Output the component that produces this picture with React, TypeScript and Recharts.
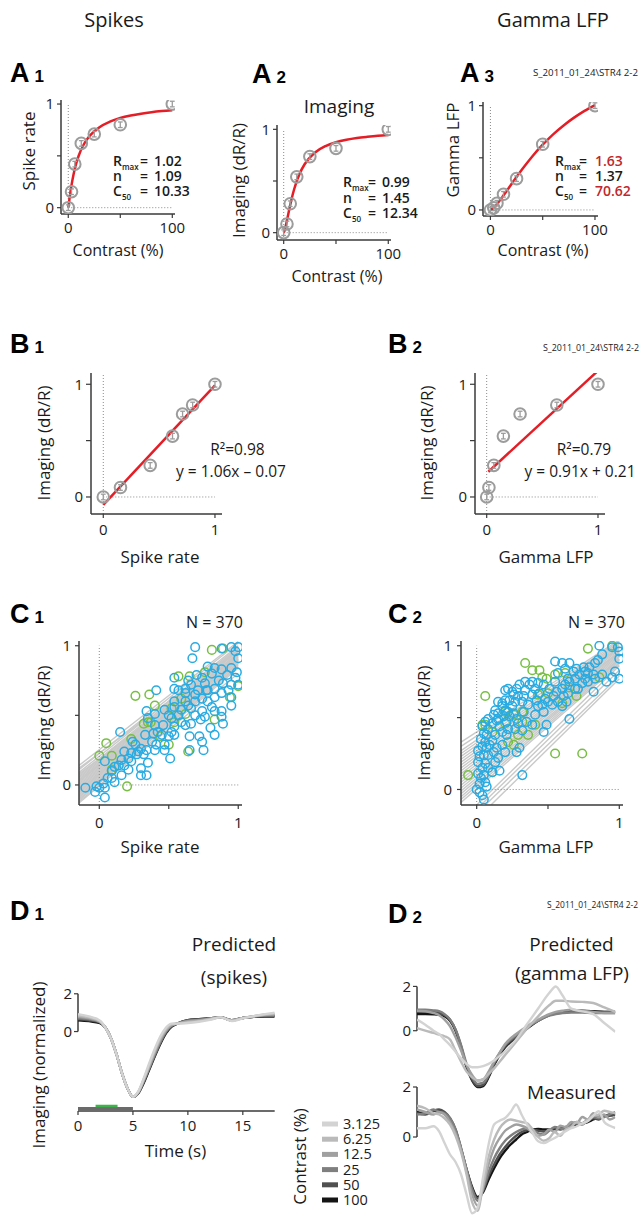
import React from 'react';
import { ComposedChart, Line, Scatter, XAxis, YAxis, ReferenceLine } from 'recharts';

const FONT = '"Open Sans", "Noto Sans", "DejaVu Sans", sans-serif';
const LETTER_FONT = '"Liberation Sans", Arial, sans-serif';
const INK = '#1a1a1a';
const AXIS = '#3a3a3a';
const RED = '#e41e26';
const MARK = '#9c9c9c';
const BLUE = '#29abe2';
const GREEN = '#77bf43';
const FITGRAY = '#c9c9c9';

// ---------- A: contrast response ----------
const contrasts = [0, 3.125, 6.25, 12.5, 25, 50, 100];
const spikeRate = [0, 0.154, 0.42, 0.62, 0.71, 0.8, 1.0];
const imagingResp = [0, 0.084, 0.28, 0.54, 0.736, 0.816, 1.0];
const gammaLfp = [0, 0.02, 0.064, 0.15, 0.3, 0.63, 1.0];

const fitContrast = [0, 1, 2, 3, 5, 7.5, 10, 15, 20, 30, 40, 50, 60, 70, 80, 90, 100];
const fitSpike = [0, 0.074, 0.146, 0.21, 0.318, 0.422, 0.501, 0.612, 0.686, 0.777, 0.83, 0.865, 0.889, 0.907, 0.921, 0.932, 0.941];
const fitImaging = [0, 0.025, 0.066, 0.113, 0.21, 0.324, 0.42, 0.565, 0.662, 0.776, 0.838, 0.875, 0.899, 0.916, 0.928, 0.938, 0.945];
const fitGamma = [0, 0.005, 0.012, 0.021, 0.042, 0.072, 0.105, 0.174, 0.246, 0.385, 0.513, 0.626, 0.725, 0.81, 0.885, 0.95, 1.006];

// ---------- B: linear fits (end points) ----------
const b1FitX = [0.0, 1.0];
const b1FitY = [-0.07, 0.99];
const b2FitX = [0.015, 1.0];
const b2FitY = [0.224, 1.12];

// ---------- C: population ----------
const c1Blue = [
  [0.69, 0.99], [0.67, 0.91], [0.88, 0.98], [0.95, 0.99], [1.0, 0.99], [0.98, 0.96], [1.0, 0.91], [0.95, 0.84], [0.88, 0.83], [0.92, 0.79],
  [0.83, 0.84], [0.78, 0.85], [0.81, 0.8], [0.74, 0.77], [0.76, 0.73], [0.86, 0.75], [0.89, 0.73], [0.98, 0.77], [0.95, 0.72], [1.0, 0.72],
  [0.83, 0.69], [0.78, 0.68], [0.71, 0.68], [0.66, 0.72], [0.64, 0.75], [0.69, 0.65], [0.74, 0.62], [0.83, 0.63], [0.88, 0.66], [0.95, 0.63],
  [0.69, 0.6], [0.64, 0.57], [0.57, 0.68], [0.54, 0.69], [0.62, 0.66], [0.54, 0.6], [0.62, 0.6], [0.81, 0.56], [0.83, 0.53], [0.95, 0.57],
  [0.88, 0.53], [0.76, 0.49], [0.73, 0.47], [0.66, 0.44], [0.62, 0.43], [0.54, 0.42], [0.52, 0.48], [0.5, 0.5], [0.47, 0.54], [0.41, 0.68],
  [0.4, 0.51], [0.34, 0.53], [0.35, 0.48], [0.46, 0.43], [0.52, 0.38], [0.5, 0.35], [0.54, 0.36], [0.65, 0.35], [0.72, 0.35], [0.74, 0.31],
  [0.65, 0.25], [0.75, 0.25], [0.8, 0.41], [0.83, 0.36], [0.89, 0.44], [0.88, 0.49], [0.42, 0.38], [0.39, 0.37], [0.33, 0.36], [0.38, 0.31],
  [0.4, 0.25], [0.3, 0.26], [0.34, 0.25], [0.26, 0.29], [0.27, 0.22], [0.21, 0.19], [0.18, 0.24], [0.16, 0.18], [0.14, 0.14], [0.18, 0.14],
  [0.21, 0.11], [0.3, 0.12], [0.35, 0.16], [0.3, 0.07], [0.34, 0.07], [0.11, 0.13], [0.09, 0.1], [0.09, 0.05], [0.04, 0.17], [0.03, 0.01],
  [-0.02, -0.01], [-0.03, -0.05], [0.0, -0.02], [0.04, -0.02], [0.04, -0.09], [-0.1, -0.02], [0.15, 0.38], [0.41, 0.29], [0.47, 0.29], [0.51, 0.19],
  [0.28, 0.24], [0.23, 0.23], [0.32, 0.22], [0.24, 0.31], [0.45, 0.36], [0.57, 0.5], [0.59, 0.54], [0.54, 0.56], [0.66, 0.55], [0.69, 0.5],
  [0.74, 0.53], [0.78, 0.6], [0.93, 0.68], [0.99, 0.81], [0.77, 0.68], [0.7, 0.79], [0.62, 0.69], [0.54, 0.77], [0.06, 0.05], [0.11, 0.02],
  [0.16, 0.07], [0.23, 0.17], [0.4, 0.43], [0.59, 0.45], [0.47, 0.25],
];
const c1Green = [
  [0.81, 0.97], [0.89, 0.98], [0.57, 0.78], [0.26, 0.64], [0.36, 0.65], [0.4, 0.57], [0.59, 0.62], [0.52, 0.55], [0.32, 0.44], [0.35, 0.45],
  [0.37, 0.45], [0.05, 0.3], [0.0, 0.21], [0.09, 0.21], [0.23, 0.33], [0.64, 0.24], [0.2, -0.01], [0.09, 0.11], [0.76, 0.81], [0.65, 0.78],
  [0.83, 0.47], [1.0, 0.71], [0.94, 0.63], [0.44, 0.35], [0.5, 0.29], [0.54, 0.45], [0.62, 0.51],
];
const c1Fits = [
  [-0.146, 0.14, 1, 1.03], [-0.146, 0.11, 1, 1.02], [-0.146, 0.09, 1, 1.0], [-0.146, 0.07, 1, 0.99], [-0.146, 0.06, 1, 0.98],
  [-0.146, 0.05, 1, 0.97], [-0.146, 0.04, 1, 0.965], [-0.146, 0.03, 1, 0.96], [-0.146, 0.02, 1, 0.95], [-0.146, 0.01, 1, 0.94],
  [-0.146, 0.0, 1, 0.935], [-0.146, -0.01, 1, 0.93], [-0.146, -0.02, 1, 0.92], [-0.146, -0.03, 1, 0.91], [-0.146, -0.04, 1, 0.905],
  [-0.146, -0.05, 1, 0.9], [-0.146, -0.06, 1, 0.89], [-0.146, -0.07, 1, 0.88], [-0.146, -0.08, 1, 0.875], [-0.146, -0.09, 1, 0.87],
  [-0.146, -0.1, 1, 0.86], [-0.146, -0.11, 1, 0.85], [-0.146, -0.13, 1, 0.84], [-0.146, 0.03, 1, 0.9], [-0.146, -0.05, 1, 0.95],
  [-0.146, 0.08, 1, 0.93], [-0.146, -0.12, 1, 0.8], [-0.146, 0.12, 1, 0.97],
];
const c2Blue = [
  [0, 0], [0.02, -0.02], [0.04, -0.04], [0.05, -0.07], [0.02, 0.04], [0.03, 0.08], [0.01, 0.11], [0.05, 0.1], [0.06, 0.05], [0.07, 0.02],
  [0.04, 0.15], [0.01, 0.19], [0.02, 0.23], [0.05, 0.24], [0.06, 0.18], [0.08, 0.15], [0.01, 0.27], [0.04, 0.3], [0.07, 0.29], [0.06, 0.33],
  [0.03, 0.35], [0.05, 0.39], [0.07, 0.38], [0.08, 0.42], [0.04, 0.44], [0.06, 0.47], [0.08, 0.49], [0.11, 0.46], [0.12, 0.52], [0.13, 0.55],
  [0.15, 0.53], [0.14, 0.48], [0.15, 0.61], [0.18, 0.58], [0.2, 0.55], [0.19, 0.51], [0.22, 0.54], [0.21, 0.47], [0.23, 0.51], [0.25, 0.58],
  [0.26, 0.53], [0.28, 0.49], [0.29, 0.46], [0.27, 0.42], [0.21, 0.38], [0.18, 0.4], [0.13, 0.38], [0.11, 0.34], [0.09, 0.31], [0.08, 0.24],
  [0.12, 0.26], [0.14, 0.29], [0.18, 0.31], [0.15, 0.22], [0.13, 0.19], [0.11, 0.12], [0.16, 0.13], [0.2, 0.26], [0.28, 0.26], [0.3, 0.29],
  [0.32, 0.1], [0.47, 0.4], [0.49, 0.45], [0.65, 0.49], [0.82, 0.68], [1.0, 0.77], [0.39, 0.45], [0.41, 0.52], [0.35, 0.47], [0.33, 0.54],
  [0.36, 0.59], [0.43, 0.58], [0.47, 0.54], [0.5, 0.61], [0.54, 0.65], [0.56, 0.68], [0.6, 0.7], [0.62, 0.73], [0.65, 0.75], [0.69, 0.77],
  [0.72, 0.8], [0.76, 0.82], [0.79, 0.85], [0.83, 0.88], [0.85, 0.9], [0.88, 0.94], [0.95, 0.99], [0.99, 0.99], [1.0, 0.96], [1.0, 0.91],
  [0.86, 1.0], [0.97, 0.82], [0.95, 0.78], [0.91, 0.75], [0.88, 0.8], [0.83, 0.77], [0.78, 0.75], [0.74, 0.74], [0.69, 0.7], [0.64, 0.67],
  [0.61, 0.65], [0.57, 0.61], [0.53, 0.59], [0.48, 0.63], [0.44, 0.67], [0.41, 0.7], [0.37, 0.73], [0.34, 0.69], [0.3, 0.73], [0.28, 0.7],
  [0.25, 0.68], [0.22, 0.7], [0.2, 0.69], [0.26, 0.66], [0.29, 0.65], [0.33, 0.65], [0.32, 0.61], [0.27, 0.61], [0.23, 0.62], [0.34, 0.75],
  [0.39, 0.75], [0.43, 0.74], [0.47, 0.73], [0.51, 0.7], [0.55, 0.75], [0.57, 0.81], [0.62, 0.84], [0.65, 0.88], [0.6, 0.88], [0.55, 0.89],
  [0.64, 0.77], [0.68, 0.82], [0.7, 0.84], [0.75, 0.85], [0.78, 0.81], [0.82, 0.8], [0.76, 0.77], [0.71, 0.7], [0.39, 0.66], [0.42, 0.62],
  [0.46, 0.59], [0.6, 0.58], [0.63, 0.61], [0.2, 0.62], [0.18, 0.6], [0.15, 0.49], [0.16, 0.44], [0.22, 0.42], [0.32, 0.41],
];
const c2Green = [
  [0.06, 0.65], [0.34, 0.88], [0.39, 0.83], [0.44, 0.83], [0.46, 0.78], [0.49, 0.77], [0.55, 0.8], [0.78, 0.98], [0.95, 1.0], [0.86, 0.78],
  [0.7, 0.65], [0.6, 0.6], [0.65, 0.71], [0.62, 0.81], [0.04, 0.45], [0.06, 0.45], [0.11, 0.4], [0.2, 0.54], [0.26, 0.52], [0.29, 0.38],
  [0.26, 0.31], [0.41, 0.45], [0.32, 0.47], [-0.06, 0.1], [0.11, 0.12], [0.55, 0.25], [0.74, 0.25], [0.22, 0.33], [0.43, 0.66], [0.5, 0.67],
  [0.36, 0.38], [0.32, 0.54], [0.2, 0.46],
];
const c2Fits = [
  [-0.11, 0.33, 1, 1.04], [-0.11, 0.3, 1, 1.03], [-0.11, 0.27, 1, 1.02], [-0.11, 0.25, 1, 1.01], [-0.11, 0.23, 1, 1.0],
  [-0.11, 0.21, 1, 0.99], [-0.11, 0.19, 1, 0.985], [-0.11, 0.17, 1, 0.98], [-0.11, 0.15, 1, 0.97], [-0.11, 0.13, 1, 0.96],
  [-0.11, 0.11, 1, 0.955], [-0.11, 0.09, 1, 0.95], [-0.11, 0.07, 1, 0.94], [-0.11, 0.05, 1, 0.93], [-0.11, 0.03, 1, 0.92],
  [-0.11, 0.01, 1, 0.91], [-0.11, -0.01, 1, 0.905], [-0.11, -0.03, 1, 0.9], [-0.11, -0.05, 1, 0.89], [-0.11, -0.07, 1, 0.88],
  [-0.11, -0.09, 1, 0.87], [0.0, -0.108, 1, 0.86], [0.03, -0.108, 1, 0.83], [0.06, -0.108, 1, 0.79], [0.1, -0.108, 1, 0.77],
];

// ---------- D: time courses ----------
const contrastLabels = ['3.125', '6.25', '12.5', '25', '50', '100'];
const contrastColors = ['#d3d3d3', '#bababa', '#a0a0a0', '#7f7f7f', '#505050', '#141414'];

const d1Time = [0, 1, 2, 2.5, 3, 3.5, 4, 4.5, 5, 5.5, 6, 6.5, 7, 7.5, 8, 8.5, 9, 10, 11, 12, 13, 14, 15, 16, 17, 17.9];
const d1C3 = [0.92, 0.8, 0.58, 0.2, -0.35, -1.2, -2.2, -3.0, -3.45, -3.15, -2.45, -1.65, -0.9, -0.25, 0.2, 0.42, 0.42, 0.45, 0.52, 0.62, 0.75, 0.55, 0.7, 0.82, 0.92, 1.0];
const d1C6 = [0.85, 0.75, 0.55, 0.2, -0.35, -1.2, -2.2, -3.0, -3.45, -3.18, -2.5, -1.75, -1.0, -0.35, 0.12, 0.38, 0.42, 0.5, 0.55, 0.65, 0.75, 0.58, 0.72, 0.82, 0.9, 0.95];
const d1C12 = [0.78, 0.7, 0.52, 0.2, -0.35, -1.2, -2.2, -3.0, -3.45, -3.2, -2.55, -1.85, -1.1, -0.45, 0.05, 0.33, 0.42, 0.55, 0.6, 0.68, 0.75, 0.6, 0.72, 0.8, 0.88, 0.9];
const d1C25 = [0.7, 0.65, 0.5, 0.2, -0.35, -1.2, -2.2, -3.0, -3.45, -3.22, -2.6, -1.9, -1.2, -0.55, 0.0, 0.3, 0.42, 0.58, 0.62, 0.68, 0.75, 0.6, 0.72, 0.8, 0.85, 0.85];
const d1C50 = [0.65, 0.6, 0.48, 0.2, -0.35, -1.2, -2.2, -3.0, -3.45, -3.25, -2.65, -1.95, -1.25, -0.6, -0.05, 0.28, 0.42, 0.6, 0.65, 0.7, 0.75, 0.6, 0.72, 0.78, 0.82, 0.82];
const d1C100 = [0.6, 0.55, 0.45, 0.2, -0.35, -1.2, -2.2, -3.0, -3.45, -3.25, -2.7, -2.0, -1.3, -0.65, -0.1, 0.25, 0.4, 0.6, 0.65, 0.7, 0.75, 0.6, 0.72, 0.78, 0.8, 0.8];

const d2PredTime = [0, 0.75, 1.5, 2, 2.5, 3, 3.5, 4, 4.5, 5, 5.5, 6, 6.5, 7, 7.5, 8, 9, 10, 11, 12, 12.6, 13.2, 14, 15, 16, 17, 18];
const d2PC3 = [0.5, 0.27, 0.0, -0.15, -0.4, -0.65, -0.95, -1.25, -1.5, -1.65, -1.65, -1.6, -1.5, -1.35, -1.15, -0.95, -0.4, 0.3, 1.0, 1.7, 2.0, 1.6, 1.0, 0.87, 0.75, 0.35, -0.05];
const d2PC6 = [0.12, 0.0, -0.1, -0.18, -0.25, -0.4, -0.9, -1.4, -1.85, -2.1, -2.25, -2.2, -1.95, -1.7, -1.4, -1.1, -0.5, 0.1, 0.65, 1.15, 1.35, 1.35, 1.32, 1.3, 1.25, 1.05, 0.85];
const d2PC12 = [0.9, 0.88, 0.8, 0.7, 0.5, 0.2, -0.3, -0.9, -1.55, -2.0, -2.25, -2.2, -1.85, -1.4, -1.0, -0.6, -0.15, 0.2, 0.5, 0.75, 0.85, 0.9, 0.95, 0.9, 0.85, 0.8, 0.8];
const d2PC25 = [0.95, 0.95, 0.92, 0.88, 0.75, 0.5, 0.05, -0.65, -1.5, -2.1, -2.4, -2.35, -2.0, -1.45, -1.0, -0.65, -0.2, 0.15, 0.45, 0.68, 0.75, 0.8, 0.82, 0.82, 0.8, 0.8, 0.8];
const d2PC50 = [0.85, 0.85, 0.84, 0.8, 0.7, 0.5, 0.05, -0.7, -1.6, -2.2, -2.5, -2.45, -2.05, -1.5, -1.05, -0.7, -0.25, 0.15, 0.45, 0.7, 0.78, 0.82, 0.85, 0.85, 0.85, 0.85, 0.85];
const d2PC100 = [0.75, 0.75, 0.74, 0.72, 0.65, 0.45, 0.0, -0.75, -1.65, -2.25, -2.55, -2.5, -2.1, -1.55, -1.1, -0.75, -0.3, 0.1, 0.45, 0.7, 0.8, 0.85, 0.9, 0.9, 0.88, 0.85, 0.85];

const d2MeasTime = [0, 0.75, 1.5, 2, 2.5, 3, 3.5, 4, 4.5, 5, 5.5, 6, 6.5, 7, 7.5, 8, 8.5, 9, 9.5, 10, 10.5, 11, 11.5, 12, 12.5, 13, 13.5, 14, 14.5, 15, 15.5, 16, 16.5, 17, 17.5, 18];
const d2MC3 = [0.35, 0.35, 0.43, 0.23, -0.24, -0.7, -1.0, -1.5, -2.3, -3.05, -2.84, -1.6, -0.3, 0.5, 0.65, 0.76, 1.0, 1.3, 0.89, 0.49, 0.15, -0.17, -0.24, -0.15, -0.04, 0.1, 0.23, 0.35, 0.43, 0.55, 0.63, 0.85, 1.03, 0.6, 0.45, 0.36];
const d2MC6 = [1.25, 1.15, 0.95, 0.9, 0.75, 0.5, 0.05, -0.6, -1.5, -2.6, -2.95, -1.9, -0.8, -0.1, 0.35, 0.6, 0.7, 0.65, 0.6, 0.55, 0.3, 0.0, -0.15, -0.05, 0.2, 0.05, 0.3, 0.4, 0.6, 0.5, 0.7, 0.85, 0.9, 1.05, 1.0, 0.95];
const d2MC12 = [1.1, 1.0, 0.9, 1.0, 0.9, 0.6, 0.15, -0.5, -1.4, -2.3, -2.75, -2.0, -1.1, -0.45, -0.05, 0.25, 0.4, 0.5, 0.45, 0.35, 0.15, 0.05, 0.1, 0.3, 0.2, 0.45, 0.4, 0.6, 0.55, 0.8, 0.7, 0.95, 0.8, 0.9, 0.7, 0.8];
const d2MC25 = [0.9, 0.95, 1.1, 1.0, 0.95, 0.75, 0.3, -0.45, -1.3, -2.1, -2.55, -2.1, -1.4, -0.85, -0.45, -0.15, 0.05, 0.2, 0.3, 0.35, 0.3, 0.15, 0.1, 0.25, 0.4, 0.35, 0.3, 0.5, 0.6, 0.55, 0.7, 0.8, 0.75, 0.8, 0.9, 1.0];
const d2MC50 = [0.95, 0.9, 1.05, 1.1, 1.0, 0.75, 0.3, -0.45, -1.3, -2.05, -2.45, -2.15, -1.55, -1.1, -0.7, -0.4, -0.15, 0.05, 0.2, 0.28, 0.3, 0.25, 0.22, 0.28, 0.35, 0.3, 0.4, 0.45, 0.55, 0.5, 0.65, 0.75, 0.7, 0.85, 0.85, 0.9];
const d2MC100 = [1.0, 0.95, 1.05, 1.05, 0.95, 0.7, 0.25, -0.5, -1.3, -2.0, -2.4, -2.2, -1.7, -1.25, -0.85, -0.55, -0.3, -0.1, 0.1, 0.2, 0.3, 0.32, 0.3, 0.3, 0.32, 0.36, 0.38, 0.42, 0.5, 0.55, 0.6, 0.7, 0.8, 0.85, 0.9, 0.95];

const d1Series = [d1C3, d1C6, d1C12, d1C25, d1C50, d1C100];
const d2PredSeries = [d2PC3, d2PC6, d2PC12, d2PC25, d2PC50, d2PC100];
const d2MeasSeries = [d2MC3, d2MC6, d2MC12, d2MC25, d2MC50, d2MC100];

// ---------- helpers ----------
const toXY = (xs: number[], ys: number[]) => xs.map((x, i) => ({ x, y: ys[i] }));
const pairs = (arr: number[][]) => arr.map(([x, y]) => ({ x, y }));
const hideVal = (h: number) => (v: number) => (Math.abs(v - h) < 1e-9 ? '' : String(v));

type R = { x0: number; y0: number; x1: number; y1: number };
const PAD = { l: 50, t: 12, r: 14, b: 40 };
const YW = 30;
const XH = 30;

function Frame({ r, noX, children }: { r: R; noX?: boolean; children: React.ReactNode }) {
  const w = r.x1 - r.x0 + PAD.l + PAD.r;
  const h = r.y1 - r.y0 + PAD.t + PAD.b;
  return (
    <div style={{ position: 'absolute', left: r.x0 - PAD.l, top: r.y0 - PAD.t, width: w, height: h }}>
      <ComposedChart width={w} height={h}
        margin={{ left: PAD.l - YW, top: PAD.t, right: PAD.r, bottom: noX ? PAD.b : PAD.b - XH }}>
        {children}
      </ComposedChart>
    </div>
  );
}

type AxOpt = {
  xd: number[]; yd: number[]; xt?: number[]; yt?: number[];
  xl?: (v: number) => string; yl?: (v: number) => string;
  xHide?: boolean; yLine?: boolean; xm?: number; ym?: number; ys?: number;
};
function axes(o: AxOpt) {
  const tick = { fontSize: 15, fill: INK, fontFamily: FONT };
  const xProps: any = o.xl ? { tickFormatter: o.xl } : {};
  const yProps: any = o.yl ? { tickFormatter: o.yl } : {};
  return [
    <XAxis key="xa" type="number" dataKey="x" domain={o.xd} allowDataOverflow ticks={o.xt || []} interval={0}
      height={XH} hide={!!o.xHide} {...xProps}
      axisLine={{ stroke: AXIS, strokeWidth: 1.5 }} tickLine={{ stroke: AXIS, strokeWidth: 1.2 }}
      tickSize={4} tickMargin={o.xm ?? 4} tick={tick} />,
    <YAxis key="ya" type="number" dataKey="y" domain={o.yd} allowDataOverflow ticks={o.yt || []} interval={0}
      width={YW} {...yProps}
      axisLine={o.yLine === false ? false : { stroke: AXIS, strokeWidth: 1.5 }} tickLine={{ stroke: AXIS, strokeWidth: 1.2 }}
      tickSize={o.ys ?? 4} tickMargin={o.ym ?? 3} tick={tick} />,
  ];
}

function dotted(key: string, a: number[], b: number[]) {
  return (
    <ReferenceLine key={key} segment={[{ x: a[0], y: a[1] }, { x: b[0], y: b[1] }]}
      stroke="#8a8a8a" strokeWidth={1} strokeDasharray="1 2" ifOverflow="visible" />
  );
}

const grayMarker = (p: any) => {
  const { cx, cy } = p;
  if (cx == null || cy == null) return <g />;
  return (
    <g>
      <circle cx={cx} cy={cy} r={5.8} fill="none" stroke={MARK} strokeWidth={2} />
      <line x1={cx} y1={cy - 2.8} x2={cx} y2={cy + 2.8} stroke={MARK} strokeWidth={1.3} />
      <line x1={cx - 2.4} y1={cy - 2.8} x2={cx + 2.4} y2={cy - 2.8} stroke={MARK} strokeWidth={1.3} />
      <line x1={cx - 2.4} y1={cy + 2.8} x2={cx + 2.4} y2={cy + 2.8} stroke={MARK} strokeWidth={1.3} />
    </g>
  );
};
const ring = (color: string) => (p: any) => {
  const { cx, cy } = p;
  if (cx == null || cy == null) return <g />;
  return <circle cx={cx} cy={cy} r={4.3} fill="none" stroke={color} strokeWidth={1.5} />;
};
const blueRing = ring(BLUE);
const greenRing = ring(GREEN);

function redFit(key: string, xs: number[], ys: number[], curve = true) {
  return (
    <Line key={key} data={toXY(xs, ys)} dataKey="y" type={curve ? 'monotone' : 'linear'} stroke={RED}
      strokeWidth={2.5} dot={false} activeDot={false} isAnimationActive={false} />
  );
}
function fitLines(prefix: string, arr: number[][]) {
  return arr.map((f, i) => (
    <Line key={prefix + i} data={[{ x: f[0], y: f[1] }, { x: f[2], y: f[3] }]} dataKey="y" type="linear"
      stroke={FITGRAY} strokeWidth={1.4} dot={false} activeDot={false} isAnimationActive={false} />
  ));
}
function traces(prefix: string, t: number[], series: number[][]) {
  return [5, 4, 3, 2, 1, 0].map((k) => (
    <Line key={prefix + k} data={toXY(t, series[k])} dataKey="y" type="monotone" stroke={contrastColors[k]}
      strokeWidth={2.4} dot={false} activeDot={false} isAnimationActive={false} />
  ));
}

// ---------- text helpers ----------
type TP = { x: number; y: number; s?: number; a?: 'start' | 'middle' | 'end'; w?: number; c?: string; rot?: boolean; children: React.ReactNode; tl?: number };
const T = ({ x, y, s = 16, a = 'start', w = 400, c = INK, rot = false, children, tl }: TP) => (
  <text x={x} y={y} fontSize={s} textAnchor={a} fontWeight={w} fill={c} fontFamily={FONT}
    transform={rot ? `rotate(-90 ${x} ${y})` : undefined}
    {...(tl ? { textLength: tl, lengthAdjust: 'spacingAndGlyphs' } : {})}>
    {children}
  </text>
);
const PL = ({ x, y, l, n }: { x: number; y: number; l: string; n: string }) => (
  <text x={x} y={y} fontFamily={LETTER_FONT} fontWeight={700} fill="#000">
    <tspan fontSize={27}>{l}</tspan>
    <tspan fontSize={17} dx={5}>{n}</tspan>
  </text>
);
type Row = { n: string; sub?: string; v: string; c?: string };
const Stats = ({ x, ys, rows, eq, val }: { x: number; ys: number[]; rows: Row[]; eq: number; val: number }) => (
  <g fontFamily={FONT} fontWeight={600} fontSize={14} fill={INK}>
    {rows.map((r, i) => (
      <g key={i}>
        <text x={x} y={ys[i]}>
          {r.n}
          {r.sub ? <tspan fontSize={8} dy={4}>{r.sub}</tspan> : null}
        </text>
        <text x={x + eq} y={ys[i]}>=</text>
        <text x={x + val} y={ys[i]} fill={r.c || INK}>{r.v}</text>
      </g>
    ))}
  </g>
);
const TAG = 'S_2011_01_24\\STR4 2-2';

// ---------- panel frames ----------
const A1R = { x0: 61, y0: 100, x1: 175, y1: 214 };
const A2R = { x0: 277, y0: 125, x1: 391, y1: 240 };
const A3R = { x0: 483, y0: 102, x1: 598, y1: 216 };
const B1R = { x0: 91, y0: 373, x1: 222, y1: 514 };
const B2R = { x0: 475, y0: 373, x1: 605, y1: 514 };
const C1R = { x0: 79, y0: 641, x1: 242, y1: 805 };
const C2R = { x0: 461, y0: 641, x1: 623, y1: 805 };
const D1R = { x0: 78.3, y0: 989.5, x1: 275, y1: 1110.4 };
const D2TR = { x0: 416.7, y0: 982.3, x1: 615, y1: 1093 };
const D2BR = { x0: 416.7, y0: 1082, x1: 615, y1: 1216 };

export default function App() {
  const redRow = '#c1272d';
  return (
    <div style={{ position: 'absolute', left: 0, top: 0, width: 641, height: 1216, overflow: 'hidden', background: '#fff' }}>
      {/* A1 */}
      <Frame r={A1R}>
        {axes({ xd: [-7, 102.6], yd: [-0.061, 1.039], xt: [0, 50, 100], yt: [0, 0.5, 1], xl: hideVal(50), yl: hideVal(0.5) })}
        {dotted('v', [0, -0.061], [0, 1])}
        {dotted('h', [0, 0], [100, 0])}
        {redFit('fit', fitContrast, fitSpike)}
        <Scatter data={toXY(contrasts, spikeRate)} shape={grayMarker} isAnimationActive={false} />
      </Frame>
      {/* A2 */}
      <Frame r={A2R}>
        {axes({ xd: [-6.4, 102.6], yd: [-0.071, 1.042], xt: [0, 50, 100], yt: [0, 0.5, 1], xl: hideVal(50), yl: hideVal(0.5) })}
        {dotted('v', [0, -0.071], [0, 1])}
        {dotted('h', [0, 0], [100, 0])}
        {redFit('fit', fitContrast, fitImaging)}
        <Scatter data={toXY(contrasts, imagingResp)} shape={grayMarker} isAnimationActive={false} />
      </Frame>
      {/* A3 */}
      <Frame r={A3R}>
        {axes({ xd: [-7.1, 102.9], yd: [-0.058, 1.035], xt: [0, 50, 100], yt: [0, 0.5, 1], xl: hideVal(50), yl: hideVal(0.5) })}
        {dotted('v', [0, -0.058], [0, 1])}
        {dotted('h', [0, 0], [100, 0])}
        {redFit('fit', fitContrast, fitGamma)}
        <Scatter data={toXY(contrasts, gammaLfp)} shape={grayMarker} isAnimationActive={false} />
      </Frame>
      {/* B1 */}
      <Frame r={B1R}>
        {axes({ xd: [-0.11, 1.063], yd: [-0.151, 1.1], xt: [0, 1], yt: [0, 0.5, 1], yl: hideVal(0.5), ys: 5, ym: 3, xm: 6 })}
        {dotted('v', [0, -0.151], [0, 1.1])}
        {dotted('h', [0, 0], [1, 0])}
        {redFit('fit', b1FitX, b1FitY, false)}
        <Scatter data={toXY(spikeRate, imagingResp)} shape={grayMarker} isAnimationActive={false} />
      </Frame>
      {/* B2 */}
      <Frame r={B2R}>
        {axes({ xd: [-0.105, 1.063], yd: [-0.151, 1.1], xt: [0, 1], yt: [0, 0.5, 1], yl: hideVal(0.5), ys: 5, ym: 3, xm: 6 })}
        {dotted('v', [0, -0.151], [0, 1.1])}
        {dotted('h', [0, 0], [1, 0])}
        <Scatter data={toXY(gammaLfp, imagingResp)} shape={grayMarker} isAnimationActive={false} />
        {redFit('fit', b2FitX, b2FitY, false)}
      </Frame>
      {/* C1 */}
      <Frame r={C1R}>
        {axes({ xd: [-0.146, 1.027], yd: [-0.144, 1.034], xt: [0, 0.5, 1], yt: [0, 0.5, 1], xl: hideVal(0.5), yl: hideVal(0.5), xm: 8, ym: 4 })}
        {fitLines('f', c1Fits)}
        {dotted('v', [0, -0.144], [0, 1])}
        {dotted('h', [0, 0], [1, 0])}
        <Scatter data={pairs(c1Green)} shape={greenRing} isAnimationActive={false} />
        <Scatter data={pairs(c1Blue)} shape={blueRing} isAnimationActive={false} />
      </Frame>
      {/* C2 */}
      <Frame r={C2R}>
        {axes({ xd: [-0.11, 1.026], yd: [-0.108, 1.033], xt: [0, 0.5, 1], yt: [0, 0.5, 1], xl: hideVal(0.5), yl: hideVal(0.5), xm: 8, ym: 5 })}
        {fitLines('f', c2Fits)}
        {dotted('v', [0, -0.108], [0, 1])}
        {dotted('h', [0, 0], [1, 0])}
        <Scatter data={pairs(c2Green)} shape={greenRing} isAnimationActive={false} />
        <Scatter data={pairs(c2Blue)} shape={blueRing} isAnimationActive={false} />
      </Frame>
      {/* D1 */}
      <Frame r={D1R}>
        {axes({ xd: [0, 17.9], yd: [-4.2, 2.2], xt: [0, 5, 10, 15], yt: [0, 2], yLine: false, xm: 5, ym: 2 })}
        <ReferenceLine segment={[{ x: 0, y: 0 }, { x: 0, y: 2 }]} stroke={AXIS} strokeWidth={1.5} ifOverflow="visible" />
        <ReferenceLine segment={[{ x: 0, y: -4.07 }, { x: 5, y: -4.07 }]} stroke="#6a6a6a" strokeWidth={3} ifOverflow="visible" />
        <ReferenceLine segment={[{ x: 1.6, y: -3.94 }, { x: 3.6, y: -3.94 }]} stroke="#3cb44b" strokeWidth={2.5} ifOverflow="visible" />
        {traces('d1', d1Time, d1Series)}
      </Frame>
      {/* D2 predicted */}
      <Frame r={D2TR} noX>
        {axes({ xd: [0, 18], yd: [-2.8, 2.2], yt: [0, 2], xHide: true, yLine: false, ym: 2 })}
        <ReferenceLine segment={[{ x: 0, y: 0 }, { x: 0, y: 2 }]} stroke={AXIS} strokeWidth={1.5} ifOverflow="visible" />
        {traces('dp', d2PredTime, d2PredSeries)}
      </Frame>
      {/* D2 measured */}
      <Frame r={D2BR} noX>
        {axes({ xd: [0, 18], yd: [-3.16, 2.2], yt: [0, 2], xHide: true, yLine: false, ym: 2 })}
        <ReferenceLine segment={[{ x: 0, y: 0 }, { x: 0, y: 2 }]} stroke={AXIS} strokeWidth={1.5} ifOverflow="visible" />
        {traces('dm', d2MeasTime, d2MeasSeries)}
      </Frame>

      {/* text overlay */}
      <svg width={641} height={1216} style={{ position: 'absolute', left: 0, top: 0, pointerEvents: 'none' }}>
        <T x={114} y={27} s={20} a="middle">Spikes</T>
        <T x={553} y={27} s={20} a="middle">Gamma LFP</T>

        <PL x={10} y={82} l="A" n="1" />
        <PL x={252} y={83} l="A" n="2" />
        <PL x={460} y={82} l="A" n="3" />
        <T x={533} y={76} s={8.5} tl={105}>{TAG}</T>

        <T x={35} y={151} s={17} a="middle" rot>Spike rate</T>
        <T x={118} y={256} s={16} a="middle">Contrast (%)</T>
        <Stats x={113} ys={[166, 181, 196]} eq={27} val={41}
          rows={[{ n: 'R', sub: 'max', v: '1.02' }, { n: 'n', v: '1.09' }, { n: 'C', sub: '50', v: '10.33' }]} />

        <T x={339} y={113} s={19} a="middle">Imaging</T>
        <T x={244.5} y={180.5} s={17} a="middle" rot>Imaging (dR/R)</T>
        <T x={337} y={282} s={16} a="middle">Contrast (%)</T>
        <Stats x={343} ys={[187, 202.5, 218]} eq={25} val={39}
          rows={[{ n: 'R', sub: 'max', v: '0.99' }, { n: 'n', v: '1.45' }, { n: 'C', sub: '50', v: '12.34' }]} />

        <T x={459} y={150} s={17} a="middle" rot>Gamma LFP</T>
        <T x={543} y={256} s={16} a="middle">Contrast (%)</T>
        <Stats x={555} ys={[166, 181, 196]} eq={24} val={40}
          rows={[{ n: 'R', sub: 'max', v: '1.63', c: redRow }, { n: 'n', v: '1.37' }, { n: 'C', sub: '50', v: '70.62', c: redRow }]} />

        <PL x={10} y={353} l="B" n="1" />
        <PL x={388} y={353} l="B" n="2" />
        <T x={543} y={351} s={8.5} tl={96}>{TAG}</T>
        <T x={49.6} y={443} s={17} a="middle" rot>Imaging (dR/R)</T>
        <T x={433} y={443} s={17} a="middle" rot>Imaging (dR/R)</T>
        <T x={160} y={563} s={17} a="middle">Spike rate</T>
        <T x={546} y={563} s={17} a="middle">Gamma LFP</T>
        <T x={237.5} y={455} s={15.5} a="middle">R²=0.98</T>
        <T x={231} y={477} s={15.5} a="middle">y = 1.06x – 0.07</T>
        <T x={584} y={455} s={15.5} a="middle">R²=0.79</T>
        <T x={580} y={477} s={15.5} a="middle">y = 0.91x + 0.21</T>

        <PL x={10} y={623} l="C" n="1" />
        <PL x={388} y={623} l="C" n="2" />
        <T x={243} y={628} s={16} a="end">N = 370</T>
        <T x={625} y={628} s={16} a="end">N = 370</T>
        <T x={49.6} y={723} s={17} a="middle" rot>Imaging (dR/R)</T>
        <T x={429.6} y={723} s={17} a="middle" rot>Imaging (dR/R)</T>
        <T x={160} y={853} s={17} a="middle">Spike rate</T>
        <T x={546} y={853} s={17} a="middle">Gamma LFP</T>

        <PL x={10} y={920} l="D" n="1" />
        <PL x={388} y={923} l="D" n="2" />
        <T x={547} y={908} s={8.5} tl={91}>{TAG}</T>
        <T x={234} y={951} s={19} a="middle">Predicted</T>
        <T x={234} y={984} s={19} a="middle">(spikes)</T>
        <T x={44.6} y={1065} s={17} a="middle" rot>Imaging (normalized)</T>
        <T x={175.5} y={1156.5} s={17} a="middle">Time (s)</T>
        <T x={571.5} y={951} s={19} a="middle">Predicted</T>
        <T x={572} y={980} s={19} a="middle">(gamma LFP)</T>
        <T x={571.5} y={1099} s={19} a="middle">Measured</T>

        <T x={306} y={1156.5} s={17} a="middle" rot>Contrast (%)</T>
        {contrastLabels.map((lab, i) => (
          <g key={lab}>
            <rect x={322} y={1124 + i * 15.2 - 2.5} width={16} height={5} fill={contrastColors[i]} />
            <T x={343} y={1124 + i * 15.2 + 5} s={14.5}>{lab}</T>
          </g>
        ))}
      </svg>
    </div>
  );
}
